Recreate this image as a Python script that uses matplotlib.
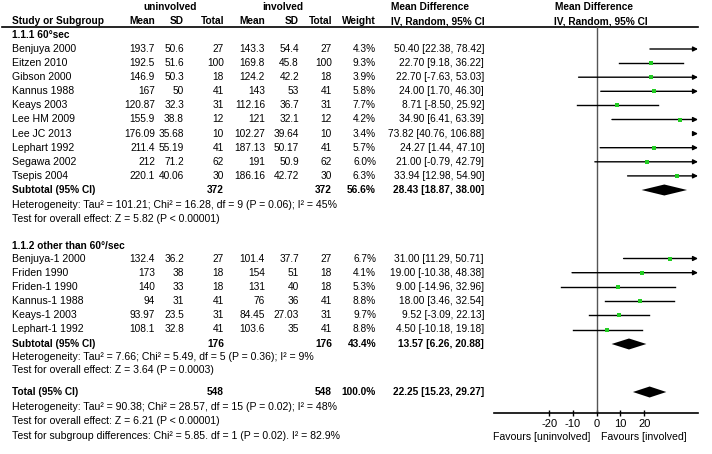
import matplotlib
matplotlib.use('Agg')
import matplotlib.pyplot as plt

plt.rcParams['font.family'] = ['Liberation Sans', 'DejaVu Sans']
plt.rcParams['font.size'] = 7.6
plt.rcParams['axes.unicode_minus'] = False

# ---- data ----
studies1 = ['Benjuya 2000', 'Eitzen 2010', 'Gibson 2000', 'Kannus 1988', 'Keays 2003',
            'Lee HM 2009', 'Lee JC 2013', 'Lephart 1992', 'Segawa 2002', 'Tsepis 2004']
mean_u1 = [193.7, 192.5, 146.9, 167, 120.87, 155.9, 176.09, 211.4, 212, 220.1]
sd_u1 = [50.6, 51.6, 50.3, 50, 32.3, 38.8, 35.68, 55.19, 71.2, 40.06]
n_u1 = [27, 100, 18, 41, 31, 12, 10, 41, 62, 30]
mean_i1 = [143.3, 169.8, 124.2, 143, 112.16, 121, 102.27, 187.13, 191, 186.16]
sd_i1 = [54.4, 45.8, 42.2, 53, 36.7, 32.1, 39.64, 50.17, 50.9, 42.72]
n_i1 = [27, 100, 18, 41, 31, 12, 10, 41, 62, 30]
weight1 = [4.3, 9.3, 3.9, 5.8, 7.7, 4.2, 3.4, 5.7, 6.0, 6.3]
md1 = [50.40, 22.70, 22.70, 24.00, 8.71, 34.90, 73.82, 24.27, 21.00, 33.94]
lo1 = [22.38, 9.18, -7.63, 1.70, -8.50, 6.41, 40.76, 1.44, -0.79, 12.98]
hi1 = [78.42, 36.22, 53.03, 46.30, 25.92, 63.39, 106.88, 47.10, 42.79, 54.90]

studies2 = ['Benjuya-1 2000', 'Friden 1990', 'Friden-1 1990', 'Kannus-1 1988',
            'Keays-1 2003', 'Lephart-1 1992']
mean_u2 = [132.4, 173, 140, 94, 93.97, 108.1]
sd_u2 = [36.2, 38, 33, 31, 23.5, 32.8]
n_u2 = [27, 18, 18, 41, 31, 41]
mean_i2 = [101.4, 154, 131, 76, 84.45, 103.6]
sd_i2 = [37.7, 51, 40, 36, 27.03, 35]
n_i2 = [27, 18, 18, 41, 31, 41]
weight2 = [6.7, 4.1, 5.3, 8.8, 9.7, 8.8]
md2 = [31.00, 19.00, 9.00, 18.00, 9.52, 4.50]
lo2 = [11.29, -10.38, -14.96, 3.46, -3.09, -10.18]
hi2 = [50.71, 48.38, 32.96, 32.54, 22.13, 19.18]

sub1 = [28.43, 18.87, 38.00]
sub2 = [13.57, 6.26, 20.88]
total = [22.25, 15.23, 29.27]
sub_n = [372, 176, 548]
sub_w = [56.6, 43.4, 100.0]

het1 = 'Heterogeneity: Tau\u00b2 = 101.21; Chi\u00b2 = 16.28, df = 9 (P = 0.06); I\u00b2 = 45%'
eff1 = 'Test for overall effect: Z = 5.82 (P < 0.00001)'
het2 = 'Heterogeneity: Tau\u00b2 = 7.66; Chi\u00b2 = 5.49, df = 5 (P = 0.36); I\u00b2 = 9%'
eff2 = 'Test for overall effect: Z = 3.64 (P = 0.0003)'
het_t = 'Heterogeneity: Tau\u00b2 = 90.38; Chi\u00b2 = 28.57, df = 15 (P = 0.02); I\u00b2 = 48%'
eff_t = 'Test for overall effect: Z = 6.21 (P < 0.00001)'
subdiff = 'Test for subgroup differences: Chi\u00b2 = 5.85. df = 1 (P = 0.02). I\u00b2 = 82.9%'

xticks = [-20, -10, 0, 10, 20]
xmin, xmax = -43.2, 42.6

# ---- layout (pixels) ----
W, H = 712, 454
col_name = 12
col_r = [155, 184, 224, 265, 299, 332, 376, 484]   # right edges of numeric columns
rows1 = [49 + 14.1 * i for i in range(len(studies1))]
rows2 = [258.5 + 14.2 * i for i in range(len(studies2))]
y_sub1, y_sub2, y_tot = 190, 344, 392
ax_top, ax_bot = 27, 413
fx0, fx1 = 494, 698

fig = plt.figure(figsize=(W / 100, H / 100), dpi=100)
tab = fig.add_axes([0, 0, 1, 1])
tab.set_xlim(0, W)
tab.set_ylim(H, 0)
tab.axis('off')


def txt(x, y, s, ha='left', bold=False, size=None):
    if size is None:
        size = 7.3 if bold else 7.6
    tab.text(x, y, s, ha=ha, va='center', fontweight='bold' if bold else 'normal',
             fontsize=size)


# headers
txt(170, 7, 'uninvolved', ha='center', bold=True)
txt(283, 7, 'involved', ha='center', bold=True)
txt(391, 7, 'Mean Difference', bold=True)
txt(555, 7, 'Mean Difference', bold=True)
txt(col_name, 21, 'Study or Subgroup', bold=True)
for x, s in zip(col_r, ['Mean', 'SD', 'Total', 'Mean', 'SD', 'Total', 'Weight']):
    txt(x, 21, s, ha='right', bold=True)
txt(391, 21, 'IV, Random, 95% CI', bold=True)
txt(554, 21, 'IV, Random, 95% CI', bold=True)
tab.plot([2, fx1], [ax_top, ax_top], color='black', lw=1.2)


def study_rows(names, mu, su, nu, mi, si, ni, w, md, lo, hi, ys):
    for k, y in enumerate(ys):
        txt(col_name, y, names[k])
        vals = [f'{mu[k]:g}', f'{su[k]:g}', str(nu[k]), f'{mi[k]:g}', f'{si[k]:g}',
                str(ni[k]), f'{w[k]:.1f}%', f'{md[k]:.2f} [{lo[k]:.2f}, {hi[k]:.2f}]']
        for x, s in zip(col_r, vals):
            txt(x, y, s, ha='right', size=7.3)


def subtotal_row(label, y, n, w, est):
    txt(col_name, y, label, bold=True)
    txt(col_r[2], y, str(n), ha='right', bold=True)
    txt(col_r[5], y, str(n), ha='right', bold=True)
    txt(col_r[6], y, f'{w:.1f}%', ha='right', bold=True)
    txt(col_r[7], y, f'{est[0]:.2f} [{est[1]:.2f}, {est[2]:.2f}]', ha='right', bold=True)


txt(col_name, 35, '1.1.1 60\u00b0sec', bold=True)
study_rows(studies1, mean_u1, sd_u1, n_u1, mean_i1, sd_i1, n_i1, weight1, md1, lo1, hi1, rows1)
subtotal_row('Subtotal (95% CI)', y_sub1, sub_n[0], sub_w[0], sub1)
txt(col_name, 205, het1)
txt(col_name, 219, eff1)

txt(col_name, 246, '1.1.2 other than 60\u00b0/sec', bold=True)
study_rows(studies2, mean_u2, sd_u2, n_u2, mean_i2, sd_i2, n_i2, weight2, md2, lo2, hi2, rows2)
subtotal_row('Subtotal (95% CI)', y_sub2, sub_n[1], sub_w[1], sub2)
txt(col_name, 356.5, het2)
txt(col_name, 370, eff2)

subtotal_row('Total (95% CI)', y_tot, sub_n[2], sub_w[2], total)
txt(col_name, 407, het_t)
txt(col_name, 421, eff_t)
txt(col_name, 436, subdiff)

txt(590, 437, 'Favours [uninvolved]', ha='right')
txt(601, 437, 'Favours [involved]')

# ---- forest panel ----
fp = fig.add_axes([fx0 / W, 1 - ax_bot / H, (fx1 - fx0) / W, (ax_bot - ax_top) / H])
fp.set_xlim(xmin, xmax)
fp.set_ylim(ax_bot, ax_top)
fp.patch.set_alpha(0)
for s in ['top', 'left', 'right']:
    fp.spines[s].set_visible(False)
fp.spines['bottom'].set_linewidth(1.2)
fp.set_yticks([])
fp.set_xticks(xticks)
fp.tick_params(axis='x', direction='inout', length=5, width=1, pad=1.5, labelsize=8)
fp.axvline(0, color='#555555', lw=1)


def forest(md, lo, hi, w, ys):
    for k, y in enumerate(ys):
        a, b = max(lo[k], xmin), min(hi[k], xmax)
        if hi[k] > xmax:
            fp.annotate('', xy=(xmax, y), xytext=(a, y),
                        arrowprops=dict(arrowstyle='-|>', color='black', lw=1,
                                        mutation_scale=7, shrinkA=0, shrinkB=0))
        else:
            fp.plot([a, b], [y, y], color='black', lw=1)
        if xmin <= md[k] <= xmax:
            fp.plot(md[k], y, 's', color='#22cc22', ms=w[k] ** 0.5 * 1.1, mew=0, zorder=5)


def diamond(est, y, h=5.5):
    fp.fill([est[1], est[0], est[2], est[0]], [y, y - h, y, y + h], color='black', lw=0)


forest(md1, lo1, hi1, weight1, rows1)
forest(md2, lo2, hi2, weight2, rows2)
diamond(sub1, y_sub1)
diamond(sub2, y_sub2)
diamond(total, y_tot)

fig.savefig('out.png', dpi=100)
